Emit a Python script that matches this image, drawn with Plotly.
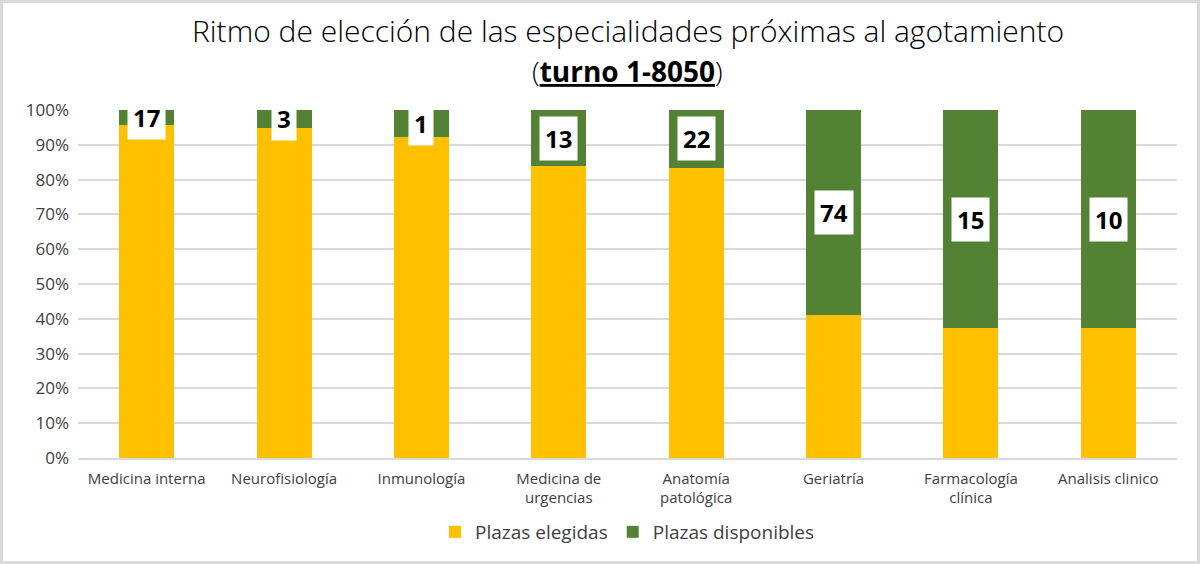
import plotly.graph_objects as go

categorias = ["Medicina interna", "Neurofisiología", "Inmunología", "Medicina de<br>urgencias",
              "Anatomía<br>patológica", "Geriatría", "Farmacología<br>clínica", "Analisis clinico"]
pct_elegidas = [95.7, 94.9, 92.2, 83.8, 83.4, 41.2, 37.3, 37.3]
pct_disponibles = [4.3, 5.1, 7.8, 16.2, 16.6, 58.8, 62.7, 62.7]
plazas_disponibles = [17, 3, 1, 13, 22, 74, 15, 10]

titulo_1 = "Ritmo de elección de las especialidades próximas al agotamiento"
titulo_2 = "(<b><u>turno 1-8050</u></b>)"

FONT = "Open Sans"
YELLOW = "#FFC000"
GREEN = "#548235"

W, H = 1200, 564
ml, mr, mt, mb = 78, 23, 110, 106
pw, ph = W - ml - mr, H - mt - mb

def py(p):
    return (H - mb - p) / ph

fig = go.Figure()
fig.add_bar(x=categorias, y=pct_elegidas, name="Plazas elegidas", marker_color=YELLOW,
            marker_line_width=0)
fig.add_bar(x=categorias, y=pct_disponibles, name="Plazas disponibles", marker_color=GREEN,
            marker_line_width=0)

for c, e, d, n in zip(categorias, pct_elegidas, pct_disponibles, plazas_disponibles):
    fig.add_annotation(x=c, y=e + d / 2, text=f"<b>{n}</b>", showarrow=False,
                       font=dict(family=FONT, size=24, color="black"),
                       bgcolor="white", borderpad=5, yanchor="middle", xanchor="center")

fig.add_annotation(x=0.5, xref="paper", y=py(31), yref="paper", text=titulo_1, showarrow=False,
                   xanchor="center", yanchor="middle",
                   font=dict(family=FONT, size=30, color="black", weight=300))
fig.add_annotation(x=0.5, xref="paper", y=py(71), yref="paper", text=titulo_2, showarrow=False,
                   xanchor="center", yanchor="middle",
                   font=dict(family=FONT, size=28, color="black", weight=300))

# outer light-gray frame
fig.add_shape(type="rect", xref="paper", yref="paper",
              x0=(-ml + 1.5) / pw, x1=1 + (mr - 1.5) / pw,
              y0=(-mb + 1.5) / ph, y1=1 + (mt - 1.5) / ph,
              line=dict(color="#d9d9d9", width=3), fillcolor="rgba(0,0,0,0)", layer="below")

fig.update_layout(
    width=W, height=H,
    margin=dict(l=ml, r=mr, t=mt, b=mb),
    barmode="stack", bargap=0.6,
    paper_bgcolor="white", plot_bgcolor="white",
    font=dict(family=FONT, color="#404040"),
    legend=dict(orientation="h", x=0.5, xanchor="center", y=py(532), yanchor="middle",
                font=dict(family=FONT, size=19, color="#404040"), traceorder="normal",
                itemwidth=30),
    showlegend=True,
)
fig.update_xaxes(showgrid=False, showline=True, linecolor="#d9d9d9", linewidth=1.5,
                 tickfont=dict(family=FONT, size=15, color="#404040"), ticks="", ticklabelstandoff=6)
fig.update_yaxes(range=[0, 100], dtick=10, ticksuffix="%", showgrid=True, gridcolor="#d9d9d9",
                 gridwidth=1.5, zeroline=False, showline=False,
                 tickfont=dict(family=FONT, size=17, color="#404040"), ticks="", ticklabelstandoff=8)

fig.write_html("out.html")
